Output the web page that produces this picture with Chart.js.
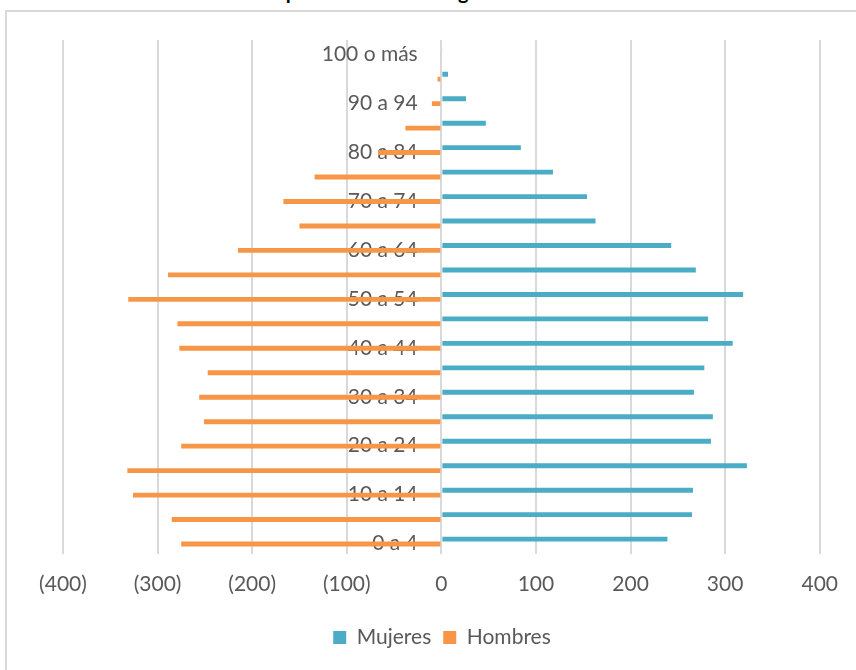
<!DOCTYPE html>
<html>
<head>
<meta charset="utf-8">
<script src="https://cdn.jsdelivr.net/npm/chart.js@4.4.1/dist/chart.umd.min.js"></script>
<style>
  html, body { margin: 0; padding: 0; background: #fff; overflow: hidden; }
  #frame { position: absolute; left: 5px; top: 10px; width: 900px; height: 700px; border: 2px solid #D9D9D9; box-sizing: border-box; }
  #title { position: absolute; left: 202px; top: -19px; white-space: nowrap; font: bold 20px Lato, sans-serif; line-height: 20px; color: #000; }
  #wrap { position: absolute; left: 0; top: 0; width: 856px; height: 670px; }
</style>
</head>
<body>
<div id="title">Pirámide poblacional total según edad</div>
<div id="frame"></div>
<div id="wrap"><canvas id="pyramid"></canvas></div>
<script>
// age groups, bottom to top
const ageGroups = ["0 a 4", "5 a 9", "10 a 14", "15 a 19", "20 a 24", "25 a 29", "30 a 34", "35 a 39",
    "40 a 44", "45 a 49", "50 a 54", "55 a 59", "60 a 64", "65 a 69", "70 a 74", "75 a 79",
    "80 a 84", "85 a 89", "90 a 94", "95 a 99", "100 o más"];
const mujeres = [239, 265, 266, 323, 285, 287, 267, 278, 308, 282, 319, 269, 243, 163, 154, 118, 84, 47, 26, 7, 1];
const hombres = [275, 285, 326, 332, 275, 251, 256, 247, 277, 279, 331, 289, 215, 150, 167, 134, 67, 38, 10, 4, 1];
const xTicks = [-400, -300, -200, -100, 0, 100, 200, 300, 400];

const textColor = "#595959";
const gridColor = "#D9D9D9";

const pyramidBuilder = (canvasId) => {
    try {
        let canvasObject = document.getElementById(canvasId);
        let pyramidData = {
            labels: ageGroups,
            datasets: [
                {
                    label: "Mujeres",
                    data: mujeres,
                    backgroundColor: "#4BACC6",
                    barPercentage: 1,
                    categoryPercentage: 0.4,
                },
                {
                    label: "Hombres",
                    data: hombres.map(v => -v),
                    backgroundColor: "#F79646",
                    barPercentage: 1,
                    categoryPercentage: 0.4,
                }
            ],
        };
        new Chart(canvasObject, {
            type: "bar",
            data: pyramidData,
            options: {
                indexAxis: "y",
                responsive: true,
                maintainAspectRatio: false,
                animation: false,
                layout: {
                    padding: { left: 63, right: 35, top: 40, bottom: 12 }
                },
                scales: {
                    x: {
                        min: -400,
                        max: 400,
                        afterBuildTicks: (axis) => {
                            axis.ticks = xTicks.map(v => ({ value: v }));
                        },
                        border: { display: false },
                        grid: { color: gridColor, lineWidth: 2, drawTicks: false },
                        ticks: {
                            color: textColor,
                            font: { family: "Lato", size: 21 },
                            padding: 18,
                            callback: (v) => v < 0 ? "(" + Math.abs(v) + ")" : String(v),
                        }
                    },
                    y: {
                        reverse: true,
                        position: { x: -25 },
                        z: 1,
                        border: { display: false },
                        grid: { display: false, drawTicks: false },
                        ticks: {
                            autoSkip: false,
                            labelOffset: 2,
                            color: textColor,
                            font: { family: "Lato", size: 21 },
                            callback: (v, i) => i % 2 === 0 ? ageGroups[i] : "",
                        }
                    }
                },
                plugins: {
                    legend: {
                        position: "bottom",
                        labels: {
                            color: textColor,
                            font: { family: "Lato", size: 21 },
                            boxWidth: 13,
                            boxHeight: 13,
                            padding: 12,
                        }
                    },
                    tooltip: { enabled: false }
                }
            }
        });
    } catch (error) {
        console.log(error.message);
    }
};

pyramidBuilder("pyramid");
</script>
</body>
</html>
